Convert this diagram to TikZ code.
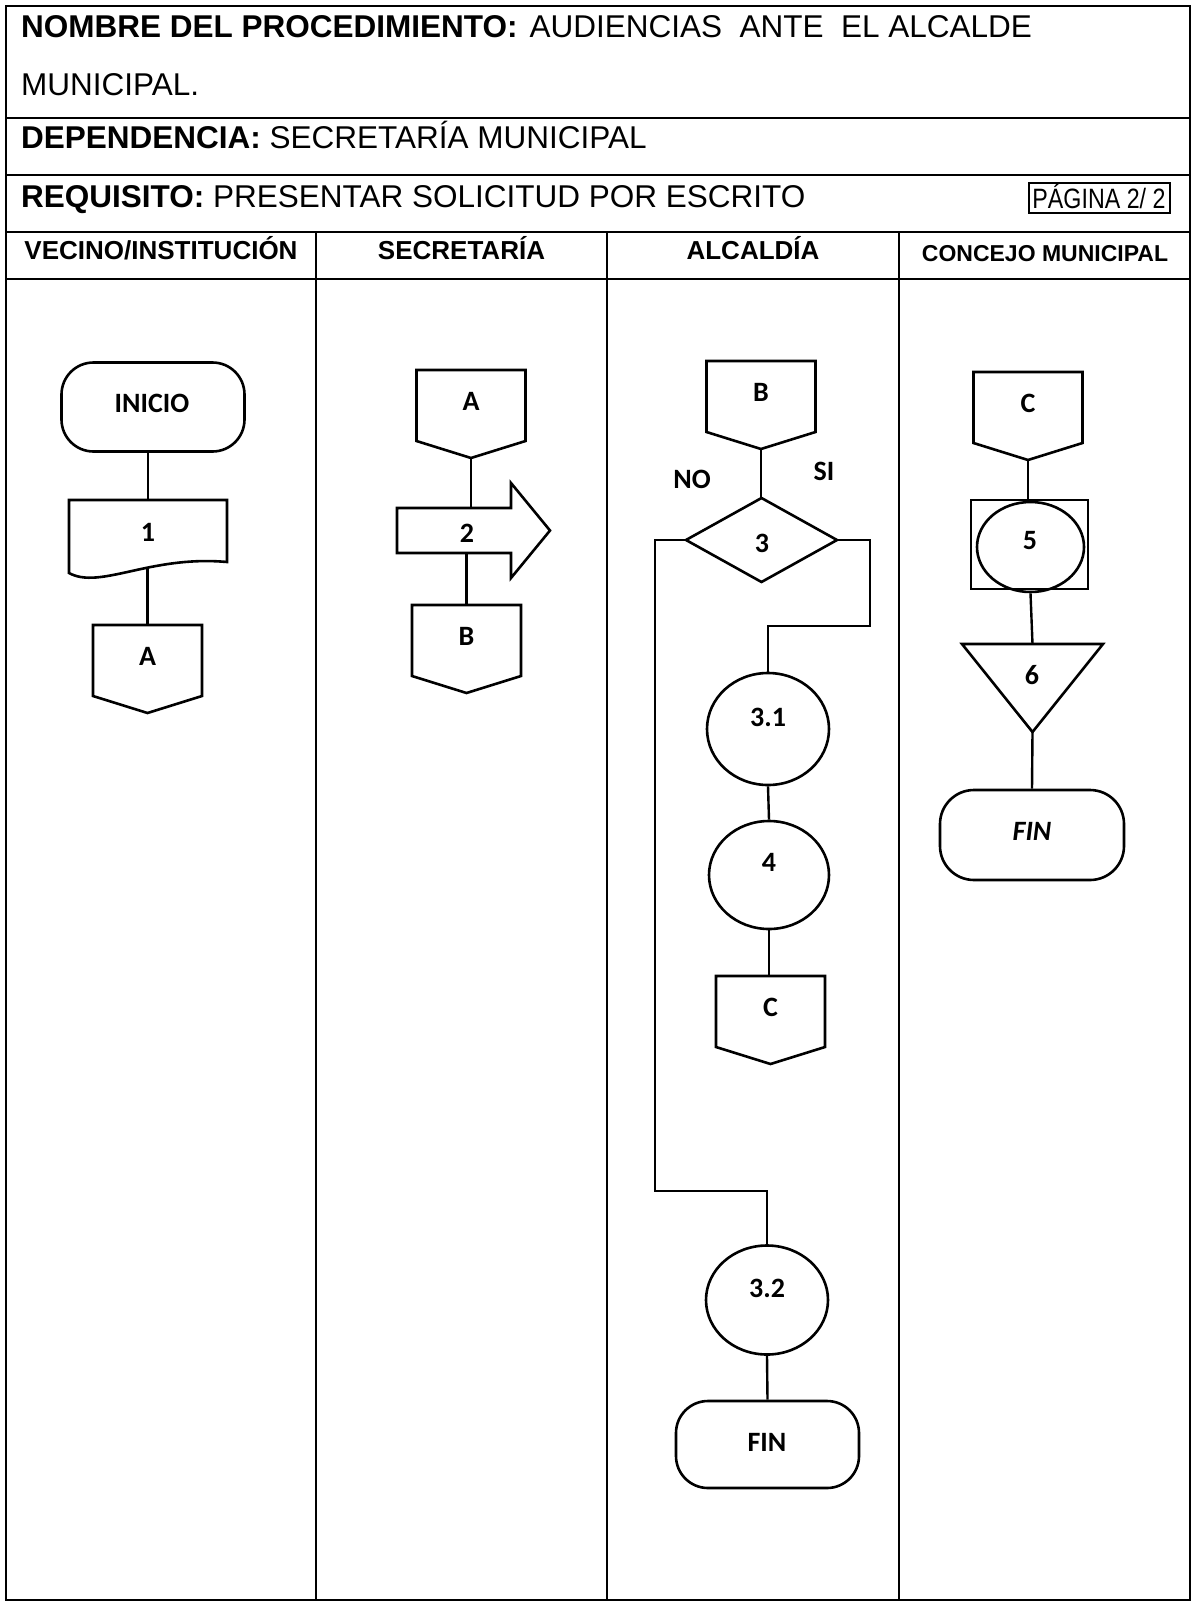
\documentclass[tikz,border=0pt]{standalone}
\usepackage{fontspec}
\setmainfont{Liberation Sans}
\newfontfamily\carl{Carlito}
\usetikzlibrary{calc,shapes.geometric}
\newcommand\offpg[4]{%
  \node[box, minimum width=109pt, minimum height=88pt] (#1) at (#2,#3) {};
  \draw[shp] (#1.north west) -- (#1.north east) -- ([yshift=17pt]#1.south east) -- (#1.south) -- ([yshift=17pt]#1.south west) -- cycle;
  \node[lbl] (#1T) at ([yshift=-31pt]#1.north) {#4};}
\begin{document}
\begin{tikzpicture}[x=1pt,y=-1pt,
  tbl/.style={line width=2pt},
  shp/.style={draw, line width=2.6pt, line join=miter},
  lnk/.style={line width=2.4pt},
  lbl/.style={font=\carl\bfseries\fontsize{28}{30}\selectfont, inner sep=0pt},
  hdr/.style={font=\bfseries\fontsize{26}{30}\selectfont, inner sep=0pt, anchor=base},
  ttl/.style={font=\fontsize{31.5}{36}\selectfont, inner sep=0pt, anchor=base west},
  box/.style={inner sep=0pt, outer sep=0pt, draw=none},
  term/.style={shp, rectangle, rounded corners=32pt, inner sep=0pt},
  ell/.style={shp, ellipse, inner sep=0pt},
]
\useasboundingbox (0,0) rectangle (1193,1606);
\fill[white] (0,0) rectangle (1193,1606);

% table
\draw[tbl] (6,6) rectangle (1190,1600);
\foreach \yy in {118,175,232,279} \draw[tbl] (6,\yy) -- (1190,\yy);
\foreach \xx in {316,607,899} \draw[tbl] (\xx,232) -- (\xx,1600);

% header texts
\node[ttl] (t1) at (21,37) {\textbf{NOMBRE DEL PROCEDIMIENTO:}\hspace{12pt}AUDIENCIAS~~ANTE~~EL ALCALDE};
\node[ttl] (t2) at (21,95) {MUNICIPAL.};
\node[ttl] (t3) at (21,148.5) {\textbf{DEPENDENCIA:} SECRETARÍA MUNICIPAL};
\node[ttl] (t4) at (21,207) {\textbf{REQUISITO:} PRESENTAR SOLICITUD POR ESCRITO};
\node[draw, line width=1.5pt, inner sep=0pt, minimum width=141pt, minimum height=30pt] (pg) at (1099.5,198) {};
\node[inner sep=0pt, anchor=base] (pgT) at (1099,208) {\scalebox{0.83}[1]{\fontsize{28}{30}\selectfont PÁGINA 2/ 2}};

\node[hdr] (h1) at (161,259) {VECINO/INSTITUCIÓN};
\node[hdr] (h2) at (461.5,259) {SECRETARÍA};
\node[hdr] (h3) at (753,259) {ALCALDÍA};
\node[hdr, font=\bfseries\fontsize{23}{28}\selectfont] (h4) at (1045,261) {CONCEJO MUNICIPAL};

% column 1
\node[term, minimum width=183pt, minimum height=89pt] (inicio) at (153,407) {};
\node[lbl] (inicioT) at (152,403) {INICIO};
\node[box, minimum width=158pt, minimum height=68pt] (d1) at (148,534) {};
\draw[shp] (d1.north west) -- (d1.north east) -- ([yshift=6pt]d1.south east) .. controls (150,555) and (100,590) .. (69,573) -- cycle;
\node[lbl] (d1T) at (148,532) {1};
\offpg{a1}{147.5}{669}{A}

% column 2
\offpg{a2}{471}{414}{A}
\node[box, minimum width=115pt, minimum height=45pt] (ar2) at (454.5,530.5) {};
\draw[shp] (ar2.north west) -- (511,508) -- (511,483) -- (550,530.5) -- (511,578) -- (511,553) -- (ar2.south west) -- cycle;
\node[lbl] (ar2T) at (467,533) {2};
\offpg{b2}{466.5}{649}{B}

% column 3
\offpg{b3}{761}{405}{B}
\node[box, minimum width=151pt, minimum height=84pt] (d3) at (761.5,540) {};
\draw[shp] (d3.north) -- (d3.east) -- (d3.south) -- (d3.west) -- cycle;
\node[lbl] (d3T) at (762,543) {3};
\node[lbl] (no) at (692,479) {NO};
\node[lbl] (si) at (824,471) {SI};
\node[ell, minimum width=122pt, minimum height=112pt] (e31) at (768,729) {};
\node[lbl] (e31T) at (768,717) {3.1};
\node[ell, minimum width=120pt, minimum height=108pt] (e4) at (769,875) {};
\node[lbl] (e4T) at (769,862) {4};
\offpg{c3}{770.5}{1020}{C}
\node[ell, minimum width=122pt, minimum height=109pt] (e32) at (767,1300) {};
\node[lbl] (e32T) at (767,1288) {3.2};
\node[term, minimum width=183pt, minimum height=87pt] (fin3) at (767.5,1444.5) {};
\node[lbl] (fin3T) at (767,1442) {FIN};

% column 4
\offpg{c4}{1028}{416}{C}
\node[shp, rectangle, inner sep=0pt, minimum width=117pt, minimum height=89pt] (sq5) at (1029.5,544.5) {};
\node[ell, minimum width=107pt, minimum height=90pt] (e5) at (1030.5,547) {};
\node[lbl] (e5T) at (1030,541) {5};
\node[box, minimum width=141pt, minimum height=88pt] (t6) at (1032.5,688) {};
\draw[shp] (t6.north west) -- (t6.north east) -- (t6.south) -- cycle;
\node[lbl] (t6T) at (1032,675) {6};
\node[term, rounded corners=34pt, minimum width=184pt, minimum height=90pt] (fin4) at (1032,835) {};
\node[lbl, font=\carl\bfseries\itshape\fontsize{28}{30}\selectfont] (fin4T) at (1032,831) {FIN};

% connectors
\draw[lnk] (inicio.south -| d1.north) -- (d1.north);
\draw[lnk] (d1.south -| a1.north) -- (a1.north);
\draw[lnk] (a2.south) -- (a2.south |- ar2.north);
\draw[lnk] (ar2.south -| b2.north) -- (b2.north);
\draw[lnk] (b3.south) -- (b3.south |- d3.north);
\draw[lnk] (d3.west) -- ++(-31,0) |- ([yshift=53pt]e32.north) -- (e32.north);
\draw[lnk] (d3.east) -- ++(33,0) |- ([yshift=46pt]e31.north) -- (e31.north);
\draw[lnk] (e31.south) -- (e4.north);
\draw[lnk] (e4.south) -- (e4.south |- c3.north);
\draw[lnk] (e32.south) -- (fin3.north);
\draw[lnk] (c4.south) -- (c4.south |- sq5.north);
\draw[lnk] (e5.south) -- (t6.north);
\draw[lnk] (t6.south) -- (fin4.north);
\end{tikzpicture}
\end{document}
